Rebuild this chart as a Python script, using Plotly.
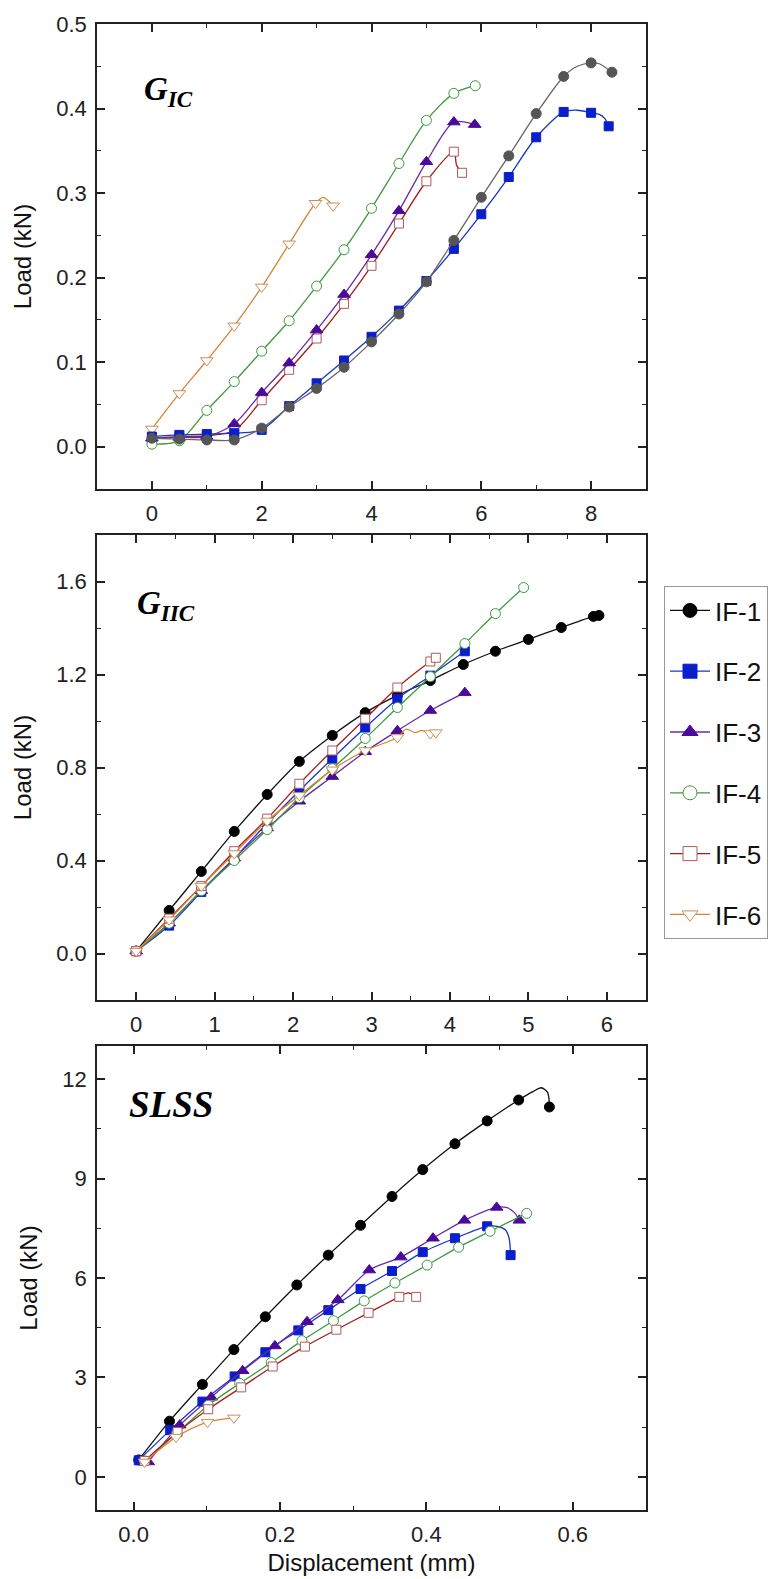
import plotly.graph_objects as go

# ---------------- DATA ----------------
NAMES = ["IF-1", "IF-2", "IF-3", "IF-4", "IF-5", "IF-6"]

# Panel 1: G_IC  (displacement mm, load kN)
GIC_X1 = [0, 0.5, 1.0, 1.5, 2.0, 2.5, 3.0, 3.5, 4.0, 4.5, 5.0, 5.5, 6.0, 6.5, 7.0, 7.5, 8.0, 8.38]
GIC_Y1 = [0.010, 0.009, 0.008, 0.008, 0.022, 0.047, 0.069, 0.094, 0.124, 0.157, 0.195, 0.244, 0.295, 0.344, 0.394, 0.438, 0.454, 0.443]
GIC_X2 = [0, 0.5, 1.0, 1.5, 2.0, 2.5, 3.0, 3.5, 4.0, 4.5, 5.0, 5.5, 6.0, 6.5, 7.0, 7.5, 8.0, 8.32]
GIC_Y2 = [0.012, 0.014, 0.015, 0.016, 0.020, 0.048, 0.075, 0.102, 0.130, 0.161, 0.196, 0.234, 0.275, 0.319, 0.366, 0.396, 0.395, 0.379]
GIC_X3 = [0, 0.5, 1.0, 1.5, 2.0, 2.5, 3.0, 3.5, 4.0, 4.5, 5.0, 5.5, 5.88]
GIC_Y3 = [0.010, 0.011, 0.012, 0.027, 0.064, 0.099, 0.138, 0.180, 0.227, 0.279, 0.337, 0.384, 0.381]
GIC_X4 = [0, 0.5, 1.0, 1.5, 2.0, 2.5, 3.0, 3.5, 4.0, 4.5, 5.0, 5.5, 5.89]
GIC_Y4 = [0.003, 0.007, 0.043, 0.077, 0.113, 0.149, 0.190, 0.233, 0.282, 0.335, 0.386, 0.418, 0.427]
GIC_X5 = [0, 0.5, 1.0, 1.5, 2.0, 2.5, 3.0, 3.5, 4.0, 4.5, 5.0, 5.5, 5.65]
GIC_Y5 = [0.010, 0.012, 0.013, 0.019, 0.055, 0.091, 0.128, 0.169, 0.214, 0.264, 0.314, 0.349, 0.324]
GIC_X6 = [0, 0.5, 1.0, 1.5, 2.0, 2.5, 2.98, 3.3]
GIC_Y6 = [0.021, 0.063, 0.102, 0.143, 0.189, 0.240, 0.288, 0.285]
# extra points on the recorded curves (no symbol)
GIC_CX1 = [7.75, 8.15]
GIC_CY1 = [0.450, 0.453]
GIC_CX2 = [7.75, 8.15, 8.25]
GIC_CY2 = [0.398, 0.393, 0.388]
GIC_CX5 = [5.55]
GIC_CY5 = [0.333]
GIC_CX6 = [3.12]
GIC_CY6 = [0.295]

# Panel 2: G_IIC
GIIC_X1 = [0, 0.42, 0.83, 1.25, 1.67, 2.08, 2.5, 2.92, 3.33, 3.75, 4.17, 4.58, 5.0, 5.42, 5.83, 5.9]
GIIC_Y1 = [0.01, 0.185, 0.353, 0.525, 0.684, 0.826, 0.938, 1.036, 1.110, 1.174, 1.243, 1.300, 1.351, 1.402, 1.450, 1.454]
GIIC_X2 = [0, 0.42, 0.83, 1.25, 1.67, 2.08, 2.5, 2.92, 3.33, 3.75, 4.19]
GIIC_Y2 = [0.01, 0.12, 0.265, 0.41, 0.56, 0.70, 0.838, 0.972, 1.095, 1.195, 1.30]
GIIC_X3 = [0, 0.42, 0.83, 1.25, 1.67, 2.08, 2.5, 2.92, 3.33, 3.75, 4.19]
GIIC_Y3 = [0.01, 0.13, 0.27, 0.41, 0.54, 0.655, 0.761, 0.868, 0.958, 1.045, 1.122]
GIIC_X4 = [0, 0.42, 0.83, 1.25, 1.67, 2.08, 2.5, 2.92, 3.33, 3.75, 4.19, 4.58, 4.94]
GIIC_Y4 = [0.01, 0.13, 0.27, 0.40, 0.533, 0.67, 0.795, 0.925, 1.058, 1.191, 1.333, 1.462, 1.574]
GIIC_X5 = [0, 0.42, 0.83, 1.25, 1.67, 2.08, 2.5, 2.92, 3.33, 3.75, 3.82]
GIIC_Y5 = [0.01, 0.15, 0.29, 0.44, 0.58, 0.73, 0.873, 1.01, 1.144, 1.256, 1.272]
GIIC_X6 = [0, 0.42, 0.83, 1.25, 1.67, 2.08, 2.5, 2.92, 3.33, 3.75, 3.82]
GIIC_Y6 = [0.01, 0.145, 0.29, 0.43, 0.57, 0.68, 0.79, 0.873, 0.929, 0.946, 0.95]
GIIC_CX6 = [3.44, 3.56, 3.64]
GIIC_CY6 = [0.965, 0.950, 0.960]

# Panel 3: SLSS
SLSS_X1 = [0.007, 0.049, 0.094, 0.137, 0.18, 0.223, 0.266, 0.31, 0.353, 0.395, 0.439, 0.483, 0.526, 0.568]
SLSS_Y1 = [0.51, 1.68, 2.79, 3.84, 4.83, 5.79, 6.69, 7.59, 8.46, 9.27, 10.05, 10.74, 11.37, 11.16]
SLSS_X2 = [0.007, 0.05, 0.094, 0.138, 0.18, 0.225, 0.266, 0.31, 0.353, 0.395, 0.439, 0.483, 0.515]
SLSS_Y2 = [0.50, 1.41, 2.27, 3.03, 3.76, 4.42, 5.03, 5.67, 6.21, 6.78, 7.20, 7.56, 6.69]
SLSS_X3 = [0.02, 0.063, 0.106, 0.149, 0.193, 0.237, 0.279, 0.322, 0.365, 0.409, 0.452, 0.496, 0.527]
SLSS_Y3 = [0.45, 1.56, 2.40, 3.20, 3.95, 4.68, 5.34, 6.24, 6.63, 7.20, 7.74, 8.13, 7.74]
SLSS_X4 = [0.015, 0.059, 0.102, 0.145, 0.188, 0.23, 0.273, 0.315, 0.357, 0.401, 0.444, 0.487, 0.537]
SLSS_Y4 = [0.48, 1.32, 2.16, 2.82, 3.45, 4.11, 4.71, 5.31, 5.85, 6.39, 6.93, 7.41, 7.95]
SLSS_X5 = [0.015, 0.06, 0.102, 0.147, 0.19, 0.234, 0.277, 0.321, 0.363, 0.386]
SLSS_Y5 = [0.48, 1.35, 2.04, 2.70, 3.33, 3.93, 4.44, 4.95, 5.43, 5.43]
SLSS_X6 = [0.015, 0.058, 0.101, 0.137]
SLSS_Y6 = [0.45, 1.20, 1.65, 1.78]
SLSS_CX1 = [0.546, 0.557, 0.5655, 0.5675]
SLSS_CY1 = [11.63, 11.74, 11.6, 11.4]
SLSS_CX2 = [0.497, 0.508, 0.513]
SLSS_CY2 = [7.56, 7.45, 7.20]
SLSS_CX3 = [0.51, 0.52]
SLSS_CY3 = [8.12, 7.98]
SLSS_CX5 = [0.375]
SLSS_CY5 = [5.55]

# Tick labels
GIC_XTICKS = [0, 2, 4, 6, 8]
GIC_YTICKS = [0.0, 0.1, 0.2, 0.3, 0.4, 0.5]
GIIC_XTICKS = [0, 1, 2, 3, 4, 5, 6]
GIIC_YTICKS = [0.0, 0.4, 0.8, 1.2, 1.6]
SLSS_XTICKS = [0.0, 0.2, 0.4, 0.6]
SLSS_YTICKS = [0, 3, 6, 9, 12]

# ---------------- STYLE ----------------
LINE_COLORS = ["#111111", "#1a36c4", "#6a2aa8", "#3c9a3c", "#a41c1c", "#d98530"]
MK_FILL = ["#000000", "#0a1ecc", "#4a0a9a", "#ffffff", "#ffffff", "#ffffff"]
MK_EDGE = ["#000000", "#0a1ecc", "#4a0a9a", "#3c9a3c", "#b05a5a", "#c8905a"]
SYMBOLS = ["circle", "square", "triangle-up", "circle", "square", "triangle-down"]
SIZES = [10, 9, 11, 10, 9, 11]

fig = go.Figure()


def merge(x, y, cx, cy):
    pts = sorted(list(zip(x, y)) + list(zip(cx, cy)), key=lambda p: p[0])
    return [p[0] for p in pts], [p[1] for p in pts]


def add_series(i, x, y, cx, cy, xa, ya, line_col=None, mk_fill=None, mk_edge=None):
    lx, ly = merge(x, y, cx, cy)
    lc = line_col or LINE_COLORS[i]
    fig.add_trace(go.Scatter(x=lx, y=ly, mode="lines", xaxis=xa, yaxis=ya,
                             line=dict(color=lc, width=1.3, shape="spline", smoothing=0.8),
                             showlegend=False, hoverinfo="skip"))
    fig.add_trace(go.Scatter(x=x, y=y, mode="markers", xaxis=xa, yaxis=ya,
                             marker=dict(symbol=SYMBOLS[i], size=SIZES[i],
                                         color=mk_fill or MK_FILL[i],
                                         line=dict(color=mk_edge or MK_EDGE[i], width=1)),
                             showlegend=False, name=NAMES[i]))


gic = [(GIC_X1, GIC_Y1, GIC_CX1, GIC_CY1), (GIC_X2, GIC_Y2, GIC_CX2, GIC_CY2),
       (GIC_X3, GIC_Y3, [], []), (GIC_X4, GIC_Y4, [], []),
       (GIC_X5, GIC_Y5, GIC_CX5, GIC_CY5), (GIC_X6, GIC_Y6, GIC_CX6, GIC_CY6)]
giic = [(GIIC_X1, GIIC_Y1, [], []), (GIIC_X2, GIIC_Y2, [], []), (GIIC_X3, GIIC_Y3, [], []),
        (GIIC_X4, GIIC_Y4, [], []), (GIIC_X5, GIIC_Y5, [], []), (GIIC_X6, GIIC_Y6, GIIC_CX6, GIIC_CY6)]
slss = [(SLSS_X1, SLSS_Y1, SLSS_CX1, SLSS_CY1), (SLSS_X2, SLSS_Y2, SLSS_CX2, SLSS_CY2),
        (SLSS_X3, SLSS_Y3, SLSS_CX3, SLSS_CY3), (SLSS_X4, SLSS_Y4, [], []),
        (SLSS_X5, SLSS_Y5, SLSS_CX5, SLSS_CY5), (SLSS_X6, SLSS_Y6, [], [])]

for i in [5, 4, 3, 2, 1, 0]:
    x, y, cx, cy = gic[i]
    if i == 0:
        add_series(i, x, y, cx, cy, "x", "y", line_col="#666666", mk_fill="#555555", mk_edge="#555555")
    else:
        add_series(i, x, y, cx, cy, "x", "y")
for i in range(6):
    x, y, cx, cy = giic[i]
    add_series(i, x, y, cx, cy, "x2", "y2")
for i in range(6):
    x, y, cx, cy = slss[i]
    add_series(i, x, y, cx, cy, "x3", "y3")

# legend entries
for i in range(6):
    fig.add_trace(go.Scatter(x=[None], y=[None], mode="lines+markers", name=NAMES[i],
                             xaxis="x2", yaxis="y2", legendgroup=NAMES[i],
                             line=dict(color=LINE_COLORS[i], width=1.3),
                             marker=dict(symbol=SYMBOLS[i], size=14, color=MK_FILL[i],
                                         line=dict(color=MK_EDGE[i], width=1))))

W, H = 781, 1579
L, R = 89, 638
panels = [(16, 481), (527, 992), (1038, 1502)]
xdom = [L / W, R / W]


def ydom(t, b):
    return [1 - b / H, 1 - t / H]


TICKFONT = dict(family="Liberation Sans, Arial", size=22, color="#222222")
TITLEFONT = dict(family="Liberation Sans, Arial", size=24, color="#111111")


def axis_common():
    return dict(showline=True, linecolor="#222222", linewidth=1.6, mirror="ticks",
                ticks="inside", ticklen=8, tickwidth=1.5, tickcolor="#222222",
                showgrid=False, zeroline=False, tickfont=TICKFONT, ticklabelstandoff=4,
                automargin=False)


ranges = [
    ([-1, 9], [-0.05, 0.5], GIC_XTICKS, GIC_YTICKS, 1, 0.05, "{:g}", "{:.1f}"),
    ([-0.5, 6.5], [-0.2, 1.8], GIIC_XTICKS, GIIC_YTICKS, 0.5, 0.2, "{:g}", "{:.1f}"),
    ([-0.05, 0.7], [-1, 13], SLSS_XTICKS, SLSS_YTICKS, 0.1, 1.5, "{:.1f}", "{:g}"),
]

layout = dict(width=W, height=H, margin=dict(l=0, r=0, t=0, b=0, autoexpand=False),
              paper_bgcolor="white", plot_bgcolor="white", showlegend=True)
for k, ((t, b), (xr, yr, xt, yt, xm, ym, xf, yf)) in enumerate(zip(panels, ranges)):
    sx = "" if k == 0 else str(k + 1)
    xa = axis_common()
    xa.update(domain=xdom, range=xr, anchor="y" + sx, tickvals=xt,
              ticktext=[xf.format(v) for v in xt],
              minor=dict(ticks="inside", ticklen=4, dtick=xm, tick0=0, tickcolor="#222222", tickwidth=1.3))
    ya = axis_common()
    ya.update(domain=ydom(t, b), range=yr, anchor="x" + sx, tickvals=yt,
              ticktext=[yf.format(v) for v in yt],
              minor=dict(ticks="inside", ticklen=4, dtick=ym, tick0=0, tickcolor="#222222", tickwidth=1.3),
              title=dict(text="Load (kN)", font=TITLEFONT, standoff=18))
    if k == 2:
        xa.update(title=dict(text="Displacement (mm)", font=TITLEFONT, standoff=8))
    layout["xaxis" + sx] = xa
    layout["yaxis" + sx] = ya

layout["legend"] = dict(x=656 / W, y=1 - 578 / H, xanchor="left", yanchor="top",
                        bordercolor="#999999", borderwidth=1, bgcolor="white",
                        font=dict(family="Liberation Sans, Arial", size=26, color="#111111"),
                        traceorder="grouped", tracegroupgap=24, itemwidth=40)

SERIF = "Liberation Serif, Times New Roman"
layout["annotations"] = [
    dict(text="<b><i>G<sub>IC</sub></i></b>", xref="paper", yref="paper",
         x=134 / W, y=1 - 84 / H, xanchor="left", yanchor="middle", showarrow=False,
         font=dict(family=SERIF, size=33, color="black")),
    dict(text="<b><i>G<sub>IIC</sub></i></b>", xref="paper", yref="paper",
         x=127 / W, y=1 - 598 / H, xanchor="left", yanchor="middle", showarrow=False,
         font=dict(family=SERIF, size=33, color="black")),
    dict(text="<b><i>SLSS</i></b>", xref="paper", yref="paper",
         x=119 / W, y=1 - 1096 / H, xanchor="left", yanchor="middle", showarrow=False,
         font=dict(family=SERIF, size=37, color="black")),
]

fig.update_layout(**layout)
fig.write_html("out.html")
